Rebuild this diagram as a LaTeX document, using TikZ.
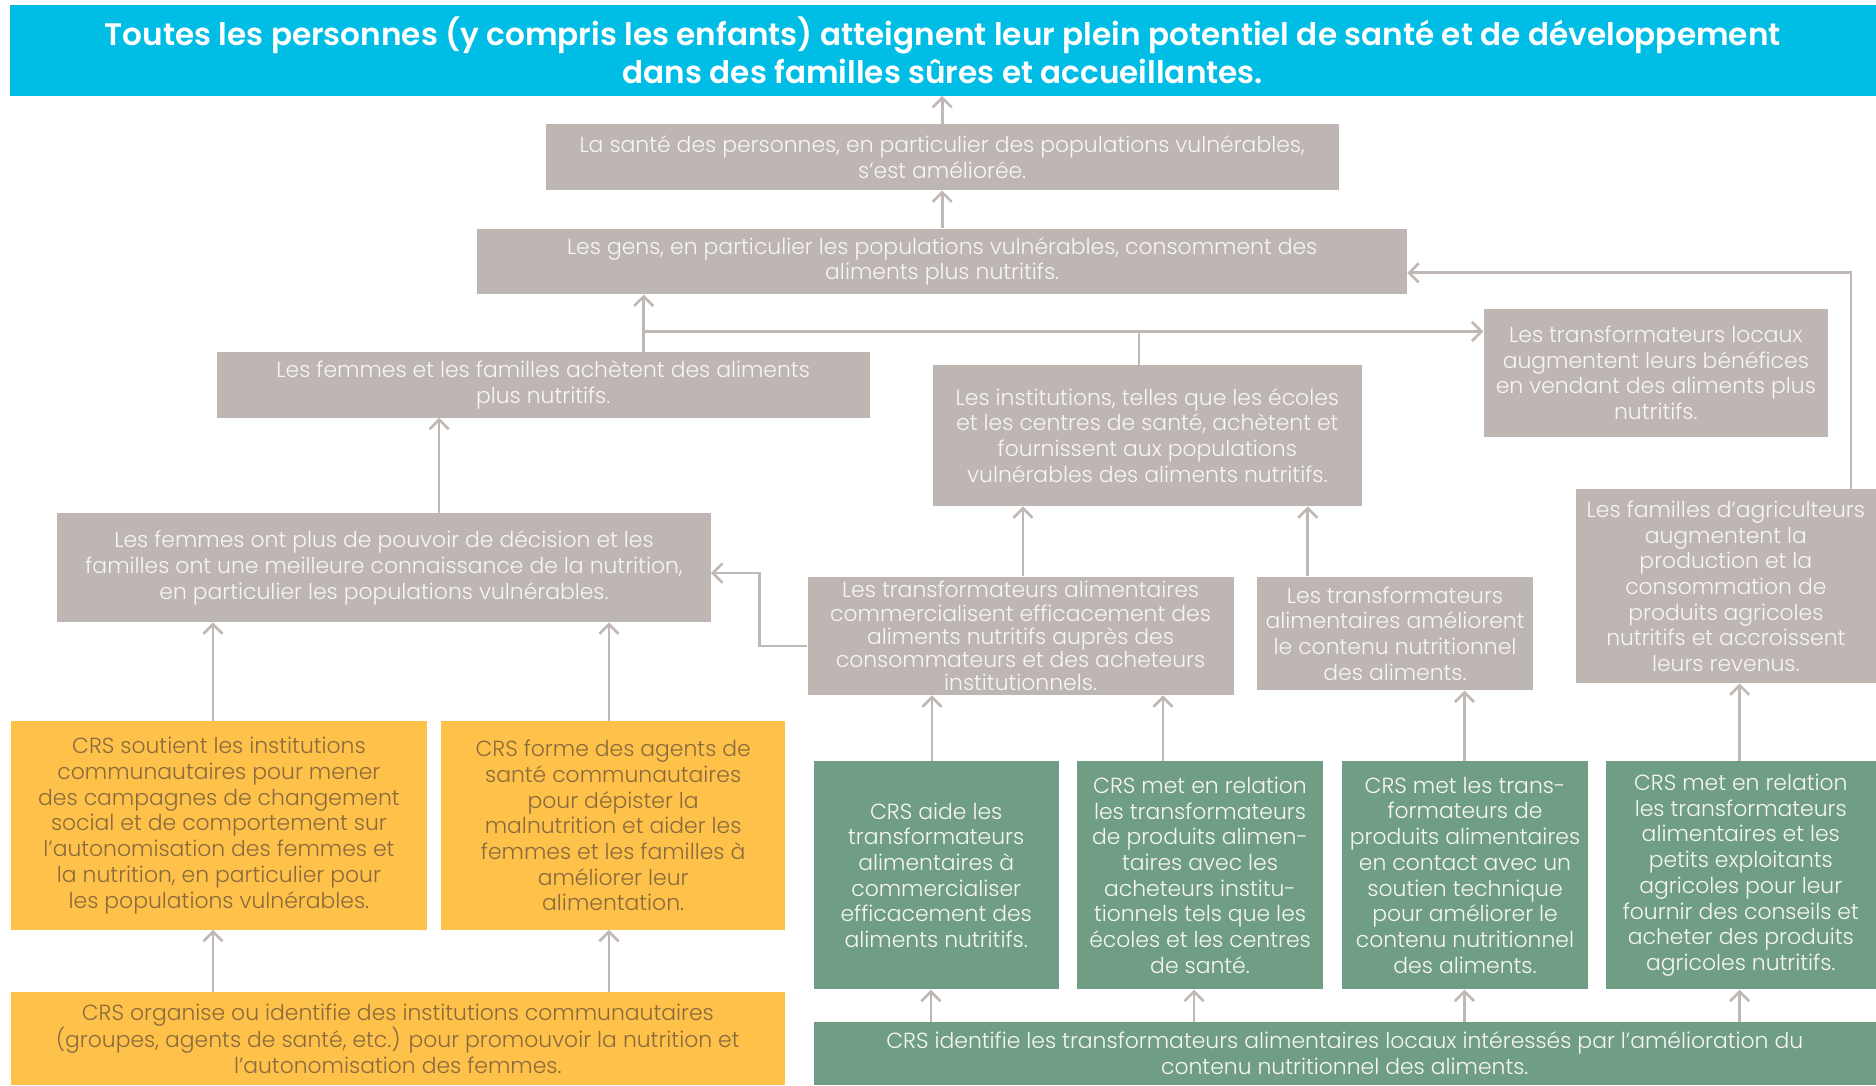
\documentclass[tikz,border=0pt]{standalone}
\usepackage{fontspec}
\setmainfont{Poppins}[UprightFont={* Light}, BoldFont={* SemiBold}]
\usetikzlibrary{arrows.meta}
\definecolor{cyanb}{HTML}{00BDE6}
\definecolor{grayb}{HTML}{BDB6B2}
\definecolor{yellowb}{HTML}{FEC24A}
\definecolor{greenb}{HTML}{709E85}
\definecolor{browntext}{HTML}{8A6A3E}
\definecolor{lighttext}{HTML}{F8F6F5}
\definecolor{linec}{HTML}{BFB8B4}
\begin{document}
\begin{tikzpicture}[x=1pt,y=-1pt,
  box/.style={rectangle, inner sep=0pt, align=center, font=\fontsize{18.3}{21.5}\selectfont},
  gbox/.style={box, fill=grayb, text=lighttext},
  ybox/.style={box, fill=yellowb, text=browntext},
  grbox/.style={box, fill=greenb, text=lighttext},
  arr/.style={draw=linec, line width=2.2pt, -{Straight Barb[length=8pt,width=16pt,line width=2.2pt]}},
  ln/.style={draw=linec, line width=2.2pt},
]
\useasboundingbox (0,0) rectangle (1568,907);
\fill[white] (0,0) rectangle (1568,907);

\node[box, fill=cyanb, text=white, font=\bfseries\fontsize{26}{32}\selectfont, minimum width=1560pt, minimum height=76pt] (title) at (788,42)
 {Toutes les personnes (y compris les enfants) atteignent leur plein potentiel de santé et de développement\\dans des familles sûres et accueillantes.};

\node[gbox, minimum width=663pt, minimum height=55pt] (b1) at (787.5,131.5)
 {La santé des personnes, en particulier des populations vulnérables,\\s’est améliorée.};
\node[gbox, minimum width=777pt, minimum height=55pt] (b2) at (787.5,218.5)
 {Les gens, en particulier les populations vulnérables, consomment des\\aliments plus nutritifs.};
\node[gbox, minimum width=546pt, minimum height=55pt] (b3) at (454,321.5)
 {Les femmes et les familles achètent des aliments\\plus nutritifs.};
\node[gbox, minimum width=358pt, minimum height=118pt] (b4) at (959,364)
 {Les institutions, telles que les écoles\\et les centres de santé, achètent et\\fournissent aux populations\\vulnérables des aliments nutritifs.};
\node[gbox, minimum width=288pt, minimum height=107pt] (b5) at (1384,311.5)
 {Les transformateurs locaux\\augmentent leurs bénéfices\\en vendant des aliments plus\\nutritifs.};
\node[gbox, minimum width=251pt, minimum height=162pt] (b6) at (1442.5,490)
 {Les familles d’agriculteurs\\augmentent la\\production et la\\consommation de\\produits agricoles\\nutritifs et accroissent\\leurs revenus.};
\node[gbox, minimum width=546pt, minimum height=91pt] (b7) at (321,474.5)
 {Les femmes ont plus de pouvoir de décision et les\\familles ont une meilleure connaissance de la nutrition,\\en particulier les populations vulnérables.};
\node[gbox, font=\fontsize{18.3}{19.3}\selectfont, minimum width=356pt, minimum height=99pt] (b8) at (853,531.5)
 {Les transformateurs alimentaires\\commercialisent efficacement des\\aliments nutritifs auprès des\\consommateurs et des acheteurs\\institutionnels.};
\node[gbox, minimum width=230pt, minimum height=95pt] (b9) at (1166,529.5)
 {Les transformateurs\\alimentaires améliorent\\le contenu nutritionnel\\des aliments.};

\node[ybox, minimum width=348pt, minimum height=174pt] (y1) at (183,690)
 {CRS soutient les institutions\\communautaires pour mener\\des campagnes de changement\\social et de comportement sur\\l’autonomisation des femmes et\\la nutrition, en particulier pour\\les populations vulnérables.};
\node[ybox, minimum width=287pt, minimum height=174pt] (y2) at (512.5,690)
 {CRS forme des agents de\\santé communautaires\\pour dépister la\\malnutrition et aider les\\femmes et les familles à\\améliorer leur\\alimentation.};
\node[ybox, minimum width=647pt, minimum height=78pt] (y3) at (332.5,868)
 {CRS organise ou identifie des institutions communautaires\\(groupes, agents de santé, etc.) pour promouvoir la nutrition et\\l’autonomisation des femmes.};

\node[grbox, minimum width=205pt, minimum height=191pt] (g1) at (782.5,731.5)
 {CRS aide les\\transformateurs\\alimentaires à\\commercialiser\\efficacement des\\aliments nutritifs.};
\node[grbox, minimum width=206pt, minimum height=191pt] (g2) at (1003,731.5)
 {CRS met en relation\\les transformateurs\\de produits alimen-\\taires avec les\\acheteurs institu-\\tionnels tels que les\\écoles et les centres\\de santé.};
\node[grbox, minimum width=205pt, minimum height=191pt] (g3) at (1224.5,731.5)
 {CRS met les trans-\\formateurs de\\produits alimentaires\\en contact avec un\\soutien technique\\pour améliorer le\\contenu nutritionnel\\des aliments.};
\node[grbox, minimum width=226pt, minimum height=191pt] (g4) at (1455,731.5)
 {CRS met en relation\\les transformateurs\\alimentaires et les\\petits exploitants\\agricoles pour leur\\fournir des conseils et\\acheter des produits\\agricoles nutritifs.};
\node[grbox, minimum width=888pt, minimum height=53pt] (g5) at (1124,880.5)
 {CRS identifie les transformateurs alimentaires locaux intéressés par l’amélioration du\\contenu nutritionnel des aliments.};

\coordinate (j1) at (538,277);
\coordinate (j2) at (952,277);
\coordinate (c6) at (1547,228);
\coordinate (k8) at (635,540);
\coordinate (k7) at (635,479);

\draw[arr] (b1.north) -- (b1.north |- title.south);
\draw[arr] (b2.north) -- (b2.north |- b1.south);
\draw[arr] (j1 |- b3.north) -- (j1 |- b2.south);
\draw[arr] (j1) -- (j1 -| b5.west);
\draw[ln] (j2 |- b4.north) -- (j2);
\draw[arr] (c6 |- b6.north) -- (c6) -- (c6 -| b2.east);
\draw[arr] (367,0 |- b7.north) -- (367,0 |- b3.south);
\draw[arr] (k8 -| b8.west) -- (k8) -- (k7) -- (k7 -| b7.east);
\draw[arr] (855,0 |- b8.north) -- (855,0 |- b4.south);
\draw[arr] (1093,0 |- b9.north) -- (1093,0 |- b4.south);
\draw[arr] (178,0 |- y1.north) -- (178,0 |- b7.south);
\draw[arr] (509,0 |- y2.north) -- (509,0 |- b7.south);
\draw[arr] (178,0 |- y3.north) -- (178,0 |- y1.south);
\draw[arr] (509,0 |- y3.north) -- (509,0 |- y2.south);
\draw[arr] (779,0 |- g1.north) -- (779,0 |- b8.south);
\draw[arr] (972,0 |- g2.north) -- (972,0 |- b8.south);
\draw[arr] (1224,0 |- g3.north) -- (1224,0 |- b9.south);
\draw[arr] (1454,0 |- g4.north) -- (1454,0 |- b6.south);
\draw[arr] (778,0 |- g5.north) -- (778,0 |- g1.south);
\draw[arr] (998,0 |- g5.north) -- (998,0 |- g2.south);
\draw[arr] (1224,0 |- g5.north) -- (1224,0 |- g3.south);
\draw[arr] (1454,0 |- g5.north) -- (1454,0 |- g4.south);
\end{tikzpicture}
\end{document}
